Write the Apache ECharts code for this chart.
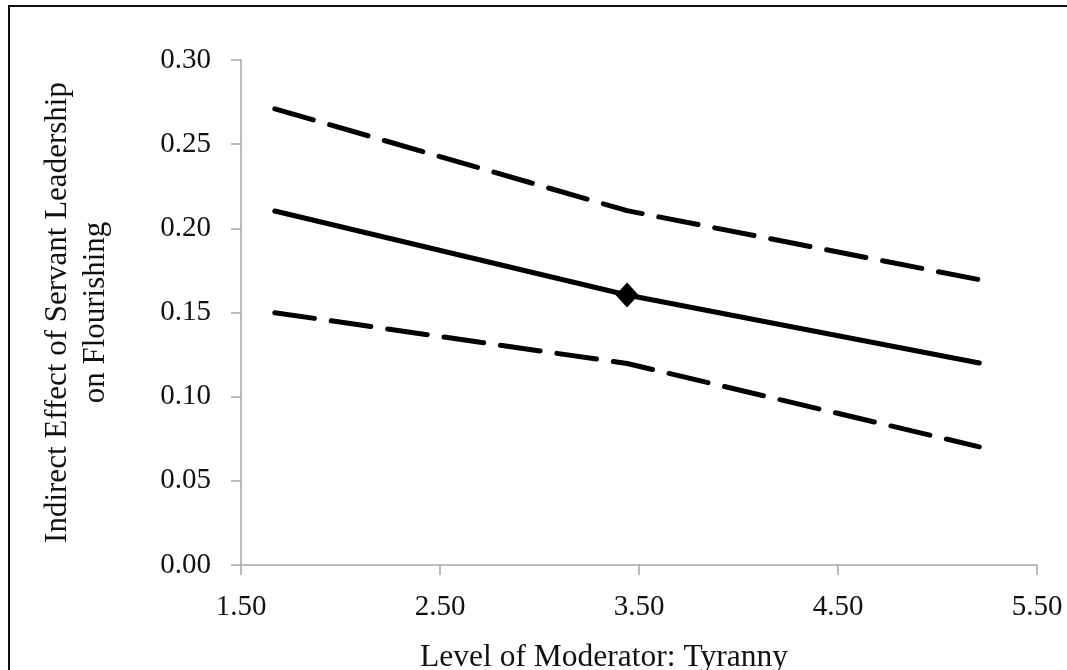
<!DOCTYPE html>
<html>
<head>
<meta charset="utf-8">
<script src="https://cdn.jsdelivr.net/npm/echarts@6/dist/echarts.min.js"></script>
<style>
    html, body { margin: 0; padding: 0; background: #fff; }
    #chart { width: 1067px; height: 670px; }
    /* frame: only left and top edges show in the source */
    #frame {
        position: absolute; left: 8px; top: 5px; right: -10px; bottom: -10px;
        border-left: 2px solid #111; border-top: 2px solid #111;
        pointer-events: none;
    }
</style>
</head>
<body>
<div id="chart"></div>
<div id="frame"></div>
<script>
// 调节变量取值 (均值 ± 1 SD)
var xLevels = [1.67, 3.44, 5.21];
// 间接效应及置信区间上下限
var effect = [0.2103, 0.1604, 0.1200];
var upperCI = [0.2710, 0.2105, 0.1695];
var lowerCI = [0.1499, 0.1197, 0.0702];
var yTicks = ['0.00', '0.05', '0.10', '0.15', '0.20', '0.25', '0.30'];
var xTicks = ['1.50', '2.50', '3.50', '4.50', '5.50'];

var fontFam = '"Liberation Serif", "DejaVu Serif", serif';
var axisGray = '#a6a6a6';

function pairs(xs, ys) {
    var out = [];
    xs.forEach(function (x, i) {
        out.push([x, ys[i]]);
    });
    return out;
}

var myChart = echarts.init(document.getElementById('chart'));
var option = {
    backgroundColor: '#fff',
    animation: false,
    grid: {
        left: 241,
        top: 60,
        width: 796,
        height: 505,
        outerBoundsMode: 'none',
        containLabel: false
    },
    xAxis: {
        type: 'value',
        min: 1.5,
        max: 5.5,
        interval: 1,
        name: 'Level of Moderator: Tyranny',
        nameLocation: 'middle',
        nameGap: 77,
        nameTextStyle: { fontFamily: fontFam, fontSize: 31.5, color: '#111', padding: [0, 70, 0, 0] },
        splitLine: { show: false },
        axisLine: { lineStyle: { color: axisGray, width: 1.5 } },
        axisTick: { show: true, length: 10, lineStyle: { color: axisGray, width: 1.5 } },
        axisLabel: {
            margin: 28,
            fontFamily: fontFam,
            fontSize: 29,
            color: '#111',
            formatter: function (v) {
                return xTicks[Math.round(v - 1.5)];
            }
        }
    },
    yAxis: {
        type: 'value',
        min: 0,
        max: 0.3,
        interval: 0.05,
        name: 'Indirect Effect of Servant Leadership\non Flourishing',
        nameLocation: 'middle',
        nameGap: 126,
        nameTextStyle: { fontFamily: fontFam, fontSize: 31, lineHeight: 38, color: '#111' },
        splitLine: { show: false },
        axisLine: { show: true, lineStyle: { color: axisGray, width: 1.5 } },
        axisTick: { show: true, length: 10, lineStyle: { color: axisGray, width: 1.5 } },
        axisLabel: {
            margin: 30,
            fontFamily: fontFam,
            fontSize: 29,
            color: '#111',
            formatter: function (v) {
                return yTicks[Math.round(v / 0.05)];
            }
        }
    },
    series: [
        {
            name: 'upper',
            type: 'line',
            data: pairs(xLevels, upperCI),
            symbol: 'none',
            lineStyle: { color: '#000', width: 5, type: [40, 17], cap: 'round' }
        },
        {
            name: 'lower',
            type: 'line',
            data: pairs(xLevels, lowerCI),
            symbol: 'none',
            lineStyle: { color: '#000', width: 5, type: [40, 17], cap: 'round' }
        },
        {
            name: 'effect',
            type: 'line',
            data: pairs(xLevels, effect),
            symbol: 'none',
            lineStyle: { color: '#000', width: 5, cap: 'round' }
        },
        {
            name: 'mean',
            type: 'scatter',
            data: [[xLevels[1], effect[1]]],
            symbol: 'diamond',
            symbolSize: [23, 25],
            itemStyle: { color: '#000', opacity: 1 }
        }
    ]
};
myChart.setOption(option);
</script>
</body>
</html>
